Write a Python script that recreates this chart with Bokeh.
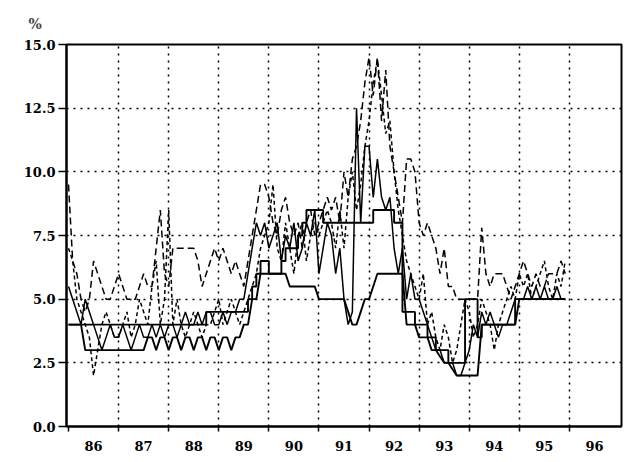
import numpy as np
from bokeh.plotting import figure
from bokeh.models import FixedTicker
from bokeh.embed import file_html
from bokeh.resources import INLINE

start_year = 1986
years = list(range(1986, 1997))
year_labels = ["86", "87", "88", "89", "90", "91", "92", "93", "94", "95", "96"]
y_ticks = [0.0, 2.5, 5.0, 7.5, 10.0, 12.5, 15.0]

# monthly values, Jan 1986 .. Dec 1995
rate_low = [4,4,4,4,3,3,3,3,3,3,3,3,
            3,3,3,3,3,3,3,3.5,3.5,3,3.5,3.5,
            3,3.5,3.5,3,3.5,3.5,3,3.5,3.5,3,3.5,3.5,
            3,3.5,3.5,3,3.5,3.5,4,4,5,5,6,6,
            6,6,6,6,6,5.5,5.5,5.5,5.5,5.5,5.5,5.5,
            5,5,5,5,5,5,5,4.5,4,4,4.5,5,
            5,5.5,6,6,6,6,6,6,6,4,4,4,
            3.5,3.5,3.5,3,3,2.75,2.5,2.5,2.25,2,2,2,
            2,2,2,4,4,4,4,4,4,4,4,4,
            5,5,5,5,5,5,5,5,5,5,5,5]
rate_high = [4,4,4,4,4,4,4,4,4,4,4,4,
             4,4,4,4,4,4,4,4,4,4,4,4,
             4,4,4,4,4,4,4,4,4,4.5,4.5,4.5,
             4.5,4.5,4.5,4.5,4.5,4.5,4.5,5,5.5,6,6.5,6.5,
             6,6,6,6.5,7,7,7,7.5,8,8.5,8.5,8.5,
             8.5,8,8,8,8,8,8,8,8,8,8,8,
             8,8.5,8.5,8.5,8.5,8.5,8,8,4.5,4.5,4.5,4,
             4,4,3.5,3.5,3,3,3,2.5,2.5,2.5,2.5,5,
             5,5,3.5,4,4,4,4,4,4,4,4,5,
             5,5,5,5,5,5,5,5,5,5,5,5]
money_mkt = [5.5,5,4.5,4,5,4.5,4,3.5,3,3.5,4,3.5,
             3.5,4,3.5,3,3.5,4,3.5,3.5,4,3.5,4,3.5,
             4,4,3.5,4,4.5,4,4,4.5,4,4.5,4.5,4,
             4,4.5,4,4.5,4.5,5,5,6,7,8,7.5,8,
             7,7.5,8,6.5,7.5,7,8,6.5,7,8,7.5,8.5,
             6,7,8,7.5,6,7,5,4,4.5,12.5,8,11,
             11,9,10.5,9,8.5,9,7,6,7,5,6,5,
             5,4.5,4,3.5,3,3,2.5,2.5,2.5,2,2,2.5,
             3,4,3.5,4.5,4,4.5,4,3.5,4,4,4.5,5,
             5,5,5.5,5,5.5,5,5.5,5,5,5.5,5,5]
bond_a = [9.5,6.5,6,5,4.5,5,6.5,6,5.5,5,5,5.5,
          6,5.5,5,5,5,5.5,6,5.5,5.5,7,8.5,6,
          5.5,7,7,7,7,7,7,6.5,5.5,6,6.5,7,
          6.5,7,6.5,6,6.5,6,5.5,6.5,7.5,8.5,9.5,9.5,
          9,8,7.5,8.5,9,8,7.5,8,7,8,8.5,7.5,
          8,8.5,9,8.5,9,8,10,9,10.5,11,12,13.5,
          14.5,13,14.5,12,14,11,10,9,8,10.5,10.5,10,
          8,7.5,8,7.5,7,6,7,5.5,5.5,5,5,5,
          5,5,5,7.8,6,5.5,6,6,6,5.5,5,5.5,
          6,6.5,6,5.5,6,5.5,5.5,6,6,6,6.5,6]
bond_b = [7,6.5,5,4.5,4,3.5,2,3,4,4.5,4,3.5,
          3.5,4,4.5,3.5,4,5,4.5,4,5.5,6.5,4,5,
          8.5,4,5,4,3.5,4,4.5,4,3.5,4,4,4.5,
          5,4,4.5,5,4.5,4,4.5,5,5.5,6,7,7.5,
          8,9.5,7,6.5,8,7,6,7.5,8,6.5,7.5,8,
          7.5,8,8.5,8,7,8.5,7,9,10,8.5,9.5,11,
          12,13.5,14.4,13,11.5,12,10,8.5,7.5,6.5,6,5.5,
          5,6,4,4.5,3.5,3,4,3.5,2.5,3,4,5,
          4.5,3.5,4,5,4.5,4,3,4,4.5,5,5.5,5,
          6,5.5,6,5,5.5,6,6.5,5.5,5,6,5.5,6.5]

t = start_year + np.arange(len(rate_low)) / 12.0

font = "DejaVu Serif"

p = figure(width=624, height=458, output_backend="svg", toolbar_location=None,
           x_range=(1985.96, 1997.04), y_range=(0, 15),
           min_border_left=66, min_border_right=3, min_border_top=43, min_border_bottom=32)
p.background_fill_color = "white"
p.outline_line_color = "black"
p.outline_line_width = 2

p.title.text = "%"
p.title.align = "left"
p.title.offset = -38
p.title.standoff = 26
p.title.text_font = font
p.title.text_font_style = "bold"
p.title.text_font_size = "14px"

p.line(t, bond_a, line_color="black", line_width=1.5, line_dash="7 4")
p.line(t, bond_b, line_color="black", line_width=1.5, line_dash="4 3")
p.line(t, money_mkt, line_color="black", line_width=1.5)
p.step(t, rate_high, line_color="black", line_width=1.9, mode="after")
p.line(t, rate_low, line_color="black", line_width=1.9)

mid = [y + 0.5 for y in years]
p.xaxis.ticker = FixedTicker(ticks=mid, minor_ticks=years)
p.xaxis.major_label_overrides = {m: lab for m, lab in zip(mid, year_labels)}
p.xaxis.major_tick_line_color = None
p.xaxis.minor_tick_out = 5
p.xaxis.minor_tick_in = 0
p.xaxis.minor_tick_line_color = "black"
p.xaxis.minor_tick_line_width = 1.5
p.xaxis.axis_line_width = 2
p.xaxis.major_label_text_font = font
p.xaxis.major_label_text_font_style = "bold"
p.xaxis.major_label_text_font_size = "13px"
p.xaxis.major_label_text_color = "black"
p.xaxis.major_label_standoff = 8

p.yaxis.ticker = FixedTicker(ticks=y_ticks)
p.yaxis.major_label_overrides = {v: f"{v:.1f}" for v in y_ticks}
p.yaxis.major_tick_out = 8
p.yaxis.major_tick_in = 0
p.yaxis.major_tick_line_width = 1.5
p.yaxis.minor_tick_line_color = None
p.yaxis.axis_line_width = 2
p.yaxis.major_label_text_font = font
p.yaxis.major_label_text_font_style = "bold"
p.yaxis.major_label_text_font_size = "13px"
p.yaxis.major_label_text_color = "black"
p.yaxis.major_label_standoff = 3

p.xgrid.ticker = FixedTicker(ticks=years[1:])
p.ygrid.ticker = FixedTicker(ticks=y_ticks[1:-1])
for g in (p.xgrid, p.ygrid):
    g.grid_line_color = "black"
    g.grid_line_dash = "2 5"
    g.grid_line_width = 1.5

open("out.html", "w").write(file_html(p, INLINE))
